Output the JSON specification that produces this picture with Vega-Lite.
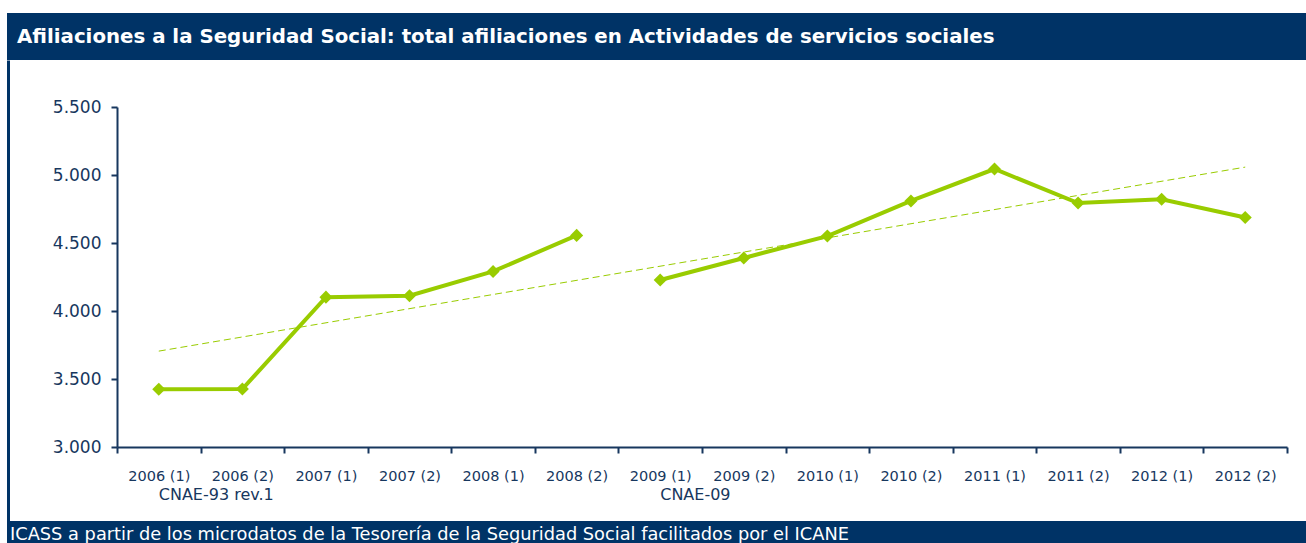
{
  "$schema": "https://vega.github.io/schema/vega-lite/v6.json",
  "background": "white",
  "padding": {"left": 7, "top": 13, "right": 0, "bottom": 0},
  "spacing": 0,
  "bounds": "flush",
  "config": {"view": {"stroke": null}, "font": "DejaVu Sans", "text": {"font": "DejaVu Sans"}},
  "vconcat": [
    {
      "width": 1299,
      "height": 47,
      "view": {"fill": "#003366", "stroke": null},
      "data": {"values": [{"titulo": "Afiliaciones a la Seguridad Social: total afiliaciones en Actividades de servicios sociales"}]},
      "mark": {"type": "text", "align": "left", "baseline": "middle", "dx": 10, "color": "white", "font": "DejaVu Sans", "fontWeight": "bold", "fontSize": 19.8},
      "encoding": {
        "text": {"field": "titulo"},
        "x": {"datum": 0, "type": "quantitative", "scale": {"domain": [0, 1]}, "axis": null},
        "y": {"datum": 0.5, "type": "quantitative", "scale": {"domain": [0, 1]}, "axis": null}
      }
    },
    {
      "width": 1299,
      "height": 461,
      "layer": [
        {
          "data": {"values": [{"b": 0}, {"b": 1}]},
          "mark": {"type": "point", "opacity": 0},
          "encoding": {
            "y": {"field": "b", "type": "quantitative", "scale": {"domain": [0, 1]},
              "axis": {"orient": "right", "offset": -1298, "domainWidth": 3, "domainColor": "#003366", "ticks": false, "labels": false, "title": null, "grid": false}}
          }
        },
        {
          "layer": [
            {
              "data": {"values": [
                {"periodo": "2006 (1)", "tendencia": 3705},
                {"periodo": "2012 (2)", "tendencia": 5058}
              ]},
              "mark": {"type": "line", "color": "#99cc00", "strokeWidth": 1, "strokeDash": [7, 4]},
              "encoding": {
                "x": {"field": "periodo", "type": "nominal",
                  "scale": {"domain": ["2006 (1)", "2006 (2)", "2007 (1)", "2007 (2)", "2008 (1)", "2008 (2)", "2009 (1)", "2009 (2)", "2010 (1)", "2010 (2)", "2011 (1)", "2011 (2)", "2012 (1)", "2012 (2)"], "range": [110, 1280], "paddingInner": 0, "paddingOuter": 0},
                  "axis": {"orient": "bottom", "offset": -74, "title": null, "labelAngle": 0, "tickBand": "extent", "domainColor": "#17375e", "domainWidth": 2, "tickColor": "#17375e", "tickWidth": 2, "tickSize": 6, "labelColor": "#17375e", "labelFontSize": 14.5, "labelFont": "DejaVu Sans", "labelPadding": 16, "labelOverlap": false, "grid": false}},
                "y": {"field": "tendencia", "type": "quantitative",
                  "scale": {"domain": [3000, 5500], "range": [387, 47], "nice": false, "zero": false},
                  "axis": {"orient": "left", "offset": -110, "title": null, "values": [3000, 3500, 4000, 4500, 5000, 5500], "labelExpr": "replace(format(datum.value, ','), ',', '.')", "domainColor": "#17375e", "domainWidth": 2, "tickColor": "#17375e", "tickWidth": 2, "tickSize": 6, "labelColor": "#17375e", "labelFontSize": 17, "labelFont": "DejaVu Sans", "labelPadding": 10, "grid": false}}
              }
            },
            {
              "data": {"values": [
                {"periodo": "2006 (1)", "afiliaciones": 3425, "serie": "CNAE-93 rev.1"},
                {"periodo": "2006 (2)", "afiliaciones": 3426, "serie": "CNAE-93 rev.1"},
                {"periodo": "2007 (1)", "afiliaciones": 4102, "serie": "CNAE-93 rev.1"},
                {"periodo": "2007 (2)", "afiliaciones": 4112, "serie": "CNAE-93 rev.1"},
                {"periodo": "2008 (1)", "afiliaciones": 4291, "serie": "CNAE-93 rev.1"},
                {"periodo": "2008 (2)", "afiliaciones": 4556, "serie": "CNAE-93 rev.1"},
                {"periodo": "2009 (1)", "afiliaciones": 4228, "serie": "CNAE-09"},
                {"periodo": "2009 (2)", "afiliaciones": 4390, "serie": "CNAE-09"},
                {"periodo": "2010 (1)", "afiliaciones": 4551, "serie": "CNAE-09"},
                {"periodo": "2010 (2)", "afiliaciones": 4809, "serie": "CNAE-09"},
                {"periodo": "2011 (1)", "afiliaciones": 5044, "serie": "CNAE-09"},
                {"periodo": "2011 (2)", "afiliaciones": 4794, "serie": "CNAE-09"},
                {"periodo": "2012 (1)", "afiliaciones": 4822, "serie": "CNAE-09"},
                {"periodo": "2012 (2)", "afiliaciones": 4688, "serie": "CNAE-09"}
              ]},
              "layer": [
                {
                  "mark": {"type": "line", "color": "#99cc00", "strokeWidth": 4},
                  "encoding": {
                    "x": {"field": "periodo", "type": "nominal"},
                    "y": {"field": "afiliaciones", "type": "quantitative"},
                    "detail": {"field": "serie"}
                  }
                },
                {
                  "mark": {"type": "point", "shape": "diamond", "filled": true, "size": 170, "color": "#99cc00", "opacity": 1},
                  "encoding": {
                    "x": {"field": "periodo", "type": "nominal"},
                    "y": {"field": "afiliaciones", "type": "quantitative"}
                  }
                }
              ]
            },
            {
              "data": {"values": [
                {"periodo": "2006 (1)", "grupo": "CNAE-93 rev.1"},
                {"periodo": "2009 (1)", "grupo": "CNAE-09"}
              ]},
              "mark": {"type": "text", "align": "left", "baseline": "top", "dy": 40, "fontSize": 16, "color": "#17375e", "font": "DejaVu Sans"},
              "encoding": {
                "x": {"field": "periodo", "type": "nominal"},
                "y": {"datum": 3000, "type": "quantitative"},
                "text": {"field": "grupo"}
              }
            }
          ]
        }
      ],
      "resolve": {"scale": {"y": "independent"}, "axis": {"y": "independent"}}
    },
    {
      "width": 1299,
      "height": 22,
      "view": {"fill": "#003366", "stroke": null},
      "data": {"values": [{"fuente": "ICASS a partir de los microdatos de la Tesorería de la Seguridad Social facilitados por el ICANE"}]},
      "mark": {"type": "text", "align": "left", "baseline": "alphabetic", "dx": 3, "dy": -3, "color": "white", "fontSize": 17.8, "font": "DejaVu Sans"},
      "encoding": {
        "text": {"field": "fuente"},
        "x": {"datum": 0, "type": "quantitative", "scale": {"domain": [0, 1]}, "axis": null},
        "y": {"datum": 0, "type": "quantitative", "scale": {"domain": [0, 1]}, "axis": null}
      }
    }
  ]
}
